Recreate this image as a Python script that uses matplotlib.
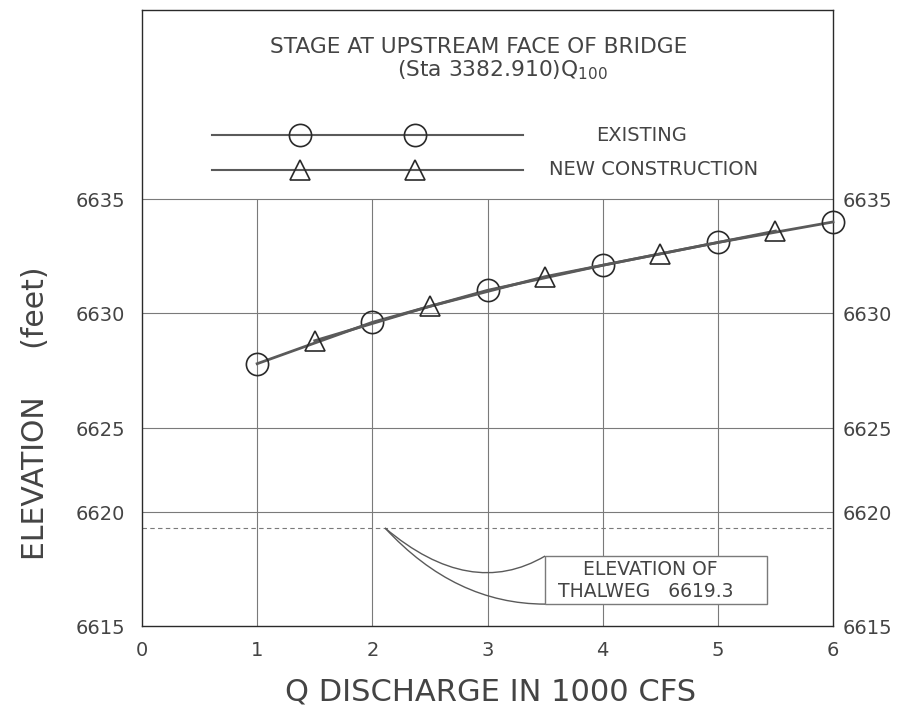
"""Stage at upstream face of bridge (Sta 3382.910), Q100 rating curve."""

import matplotlib
import matplotlib.pyplot as plt
import numpy as np
from matplotlib.patches import PathPatch, Rectangle
from matplotlib.path import Path

matplotlib.use("Agg")

# ── data ────────────────────────────────────────────────────────────────────
discharge_existing = [1, 2, 3, 4, 5, 6]  # 1000 cfs
stage_existing = [6627.8, 6629.6, 6631.0, 6632.1, 6633.1, 6634.0]
discharge_new = [1.5, 2.5, 3.5, 4.5, 5.5]
stage_new = [6628.8, 6630.3, 6631.6, 6632.6, 6633.6]
THALWEG = 6619.3

x_ticks = [0, 1, 2, 3, 4, 5, 6]
y_ticks = [6615, 6620, 6625, 6630, 6635]

# the scanned sheet is not uniform: the 6620-6625 band is squeezed
Y_BREAKS = [6615, 6620, 6625, 6630, 6635, 6645]
Y_POS = [0, 114, 198, 313, 427, 655]


def _fwd(v):
    return np.interp(v, Y_BREAKS, Y_POS)


def _inv(p):
    return np.interp(p, Y_POS, Y_BREAKS)


INK = "#2a2a2a"
TXT = "#444444"
GRID = "#7a7a7a"
LINE = "#5a5a5a"

plt.rcParams["font.family"] = ["DejaVu Sans"]

fig = plt.figure(figsize=(9.15, 7.10), dpi=100)
ax = fig.add_axes([142 / 915, 1 - 626 / 710, 691 / 915, 616 / 710])
ax.set_yscale("function", functions=(_fwd, _inv))
ax.set_xlim(0, 6)
ax.set_ylim(6615, 6643.3)

# grid only below the 6635 line, legend/title live above it
ax.vlines(x_ticks[1:-1], y_ticks[0], y_ticks[-1], color=GRID, lw=0.8, zorder=1)
ax.hlines(y_ticks[1:], x_ticks[0], x_ticks[-1], color=GRID, lw=0.8, zorder=1)
ax.hlines(THALWEG, x_ticks[0], x_ticks[-1], color=GRID, lw=0.8,
          linestyle=(0, (4, 3)), zorder=1)

ax.plot(discharge_existing, stage_existing, color=LINE, lw=2, marker="o",
        ms=16, mfc="none", mec=INK, mew=1.2, clip_on=False, zorder=3)
ax.plot(discharge_new, stage_new, color=LINE, lw=2, marker="^",
        ms=15, mfc="none", mec=INK, mew=1.2, zorder=3)

for sp in ax.spines.values():
    sp.set_color(INK)
    sp.set_linewidth(1.0)

ax.set_xticks(x_ticks)
ax.set_xticklabels([str(v) for v in x_ticks])
ax.set_yticks(y_ticks)
ax.set_yticklabels([str(v) for v in y_ticks])
ax.tick_params(axis="x", length=0, pad=11, labelsize=14, labelcolor=TXT)
ax.tick_params(axis="y", length=0, pad=12, labelsize=14, labelcolor=TXT)
ax.minorticks_off()

twin = ax.twinx()
twin.set_yscale("function", functions=(_fwd, _inv))
twin.set_ylim(ax.get_ylim())
twin.set_yticks(y_ticks)
twin.set_yticklabels([str(v) for v in y_ticks])
twin.tick_params(axis="y", length=0, pad=7, labelsize=14, labelcolor=TXT)
twin.minorticks_off()
for sp in twin.spines.values():
    sp.set_visible(False)

ax.set_xlabel("Q DISCHARGE IN 1000 CFS", fontsize=22, color=TXT)
ax.xaxis.set_label_coords(0.505, -0.083)
ax.set_ylabel("ELEVATION     (feet)", fontsize=21.5, color=TXT)
ax.yaxis.set_label_coords(-0.133, 0.345)

# title block inside the frame
ax.text(2.92, 6641.4, "STAGE AT UPSTREAM FACE OF BRIDGE", ha="center",
        va="baseline", fontsize=15.7, color=TXT)
ax.text(3.13, 6640.4, "(Sta 3382.910)Q$_{100}$", ha="center",
        va="baseline", fontsize=15.7, color=TXT)

# hand-drawn legend
for y, mk, ms, label, tx in [(6637.8, "o", 16, "EXISTING", 3.94),
                             (6636.3, "^", 15, "NEW CONSTRUCTION", 3.53)]:
    ax.plot([0.61, 3.31], [y, y], color=LINE, lw=1.5, zorder=3)
    ax.plot([1.37, 2.37], [y, y], ls="none", marker=mk, ms=ms,
            mfc="none", mec=INK, mew=1.2, zorder=3)
    ax.text(tx, y, label, ha="left", va="center", fontsize=14, color=TXT)

# thalweg callout
ax.add_patch(Rectangle((3.50, 6615.96), 1.93, 2.11, fc="white", ec=GRID,
                       lw=1.0, zorder=4))
ax.text(4.41, 6617.5, "ELEVATION OF", ha="center", va="center",
        fontsize=13.5, color=TXT, zorder=5)
ax.text(4.37, 6616.5, f"THALWEG   {THALWEG}", ha="center", va="center",
        fontsize=13.5, color=TXT, zorder=5)
for ctrl, end in [((2.85, 6616.14), (3.50, 6618.07)),
                  ((2.72, 6615.96), (3.50, 6615.96))]:
    p = Path([(2.11, THALWEG), ctrl, end], [Path.MOVETO, Path.CURVE3, Path.CURVE3])
    ax.add_patch(PathPatch(p, fc="none", ec=LINE, lw=1.0, zorder=4))

fig.savefig("out.png", dpi=100)
